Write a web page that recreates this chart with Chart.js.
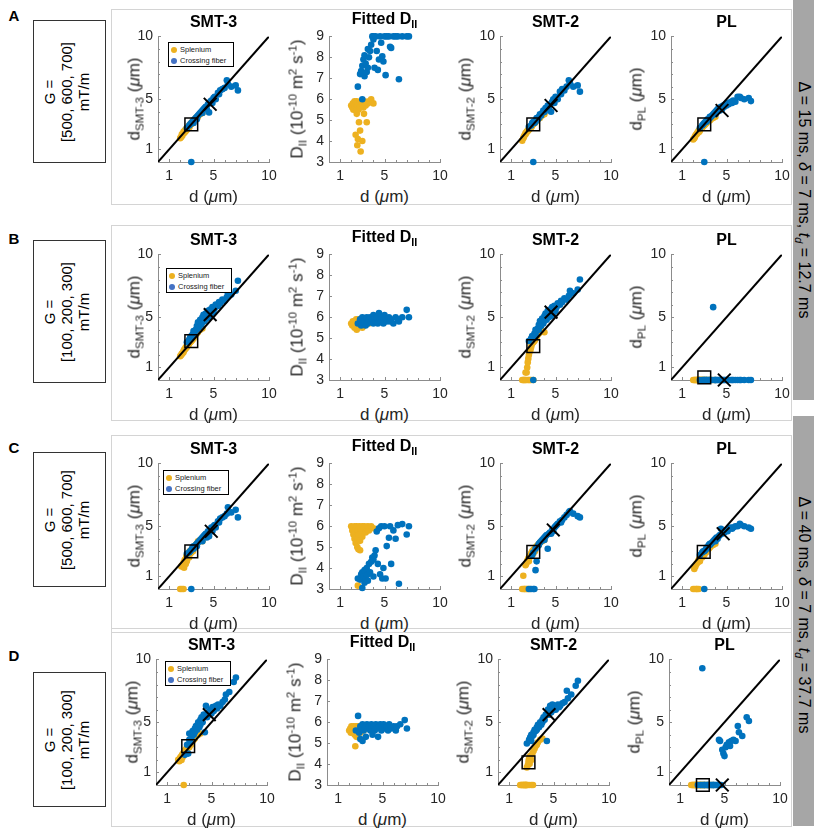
<!DOCTYPE html>
<html>
<head>
<meta charset="utf-8">
<script src="https://cdn.jsdelivr.net/npm/chart.js@4/dist/chart.umd.min.js"></script>
<style>
  body { margin:0; width:814px; height:832px; position:relative; overflow:hidden; background:#fff;
         font-family:"Liberation Sans", Arial, sans-serif; color:#000; }
  .txt { position:absolute; white-space:nowrap; line-height:1; }
  .title { font-weight:bold; font-size:16px; }
  .axlab { font-size:17px; color:#262626; }
  sub { font-size:0.68em; vertical-align:-0.35em; line-height:0; }
  sup { font-size:0.68em; vertical-align:0.55em; line-height:0; }
  .frame { position:absolute; border:1px solid #d4d4d4; box-sizing:border-box; }
  .gbox { position:absolute; border:1px solid #333; box-sizing:border-box; }
  .gtext { font-size:15px; text-align:center; line-height:17px; }
  .side-text { font-size:16px; }
  .letter { font-weight:bold; font-size:15px; }
  .side { position:absolute; background:#a6a6a6; }
  .legend { position:absolute; width:66px; height:25px; border:1px solid #000; background:#fff;
            box-sizing:border-box; font-size:7.5px; padding:1px 0 0 2px; color:#222; }
  .legend div { height:11px; display:flex; align-items:center; }
  .dot { width:6px; height:6px; border-radius:50%; margin-right:3px; display:inline-block; }
</style>
</head>
<body>
<script>
// ground-truth diameters (µm) of the voxels in each ROI
const dSplenium = [2.0, 2.1, 2.15, 2.2, 2.3, 2.3, 2.35, 2.4, 2.45, 2.5, 2.5, 2.55, 2.6, 2.6, 2.65, 2.7,
                   2.75, 2.8, 2.8, 2.85, 2.9, 3.0, 3.0, 3.1, 3.15, 3.2, 3.3, 3.4, 3.5, 3.6, 3.8, 4.0];
const dCrossing = [2.6, 2.8, 2.9, 3.0, 3.0, 3.1, 3.2, 3.2, 3.3, 3.4, 3.5, 3.5, 3.6, 3.7, 3.8, 3.9, 4.0, 4.0, 4.1, 4.2,
                   4.3, 4.4, 4.5, 4.6, 4.7, 4.8, 4.9, 5.0, 5.1, 5.2, 5.4, 5.5, 5.6, 5.8, 6.0, 6.2, 6.3, 6.6, 7.0, 7.2];

// row A: Δ = 15 ms, G = [500, 600, 700]
const aSmt3S = [1.9, 2.0, 2.2, 2.1, 2.3, 2.4, 2.3, 2.5, 2.4, 2.6, 2.5, 2.5, 2.7, 2.6, 2.6, 2.8, 2.7, 2.9, 2.8, 2.8, 3.0, 3.0, 3.1, 3.2, 3.1, 3.3, 3.3, 3.5, 3.5, 3.6, 3.8, 3.9];
const aSmt3C = [2.7, 2.9, 3.0, 0, 3.1, 3.2, 3.3, 3.1, 3.4, 3.5, 3.6, 3.4, 3.7, 3.8, 3.9, 4.0, 4.1, 3.9, 4.2, 4.3, 4.4, 4.2, 4.6, 3.95, 4.8, 4.9, 4.7, 5.1, 5.2, 5.0, 5.5, 5.4, 5.7, 5.8, 5.9, 6.5, 6.2, 6.0, 6.1, 5.7];
const aFitS = [5.7, 5.6, 5.8, 5.5, 5.9, 5.6, 5.7, 4.3, 5.8, 5.3, 5.9, 3.8, 5.7, 4.1, 5.5, 4.9, 5.8, 4.5, 5.6, 3.5, 5.9, 4.0, 5.8, 5.6, 5.3, 5.9, 5.7, 4.9, 5.8, 5.9, 6.0, 5.8];
const aFitC = [6.6, 7.2, 7.35, 6.0, 7.6, 7.9, 7.1, 8.1, 7.7, 7.3, 8.4, 7.5, 8.0, 8.3, 8.6, 9.0, 8.85, 9.0, 7.5, 9.0, 8.3, 7.4, 7.9, 9.0, 8.7, 8.05, 7.8, 9.0, 7.15, 9.0, 9.0, 8.5, 8.45, 9.0, 9.0, 9.0, 6.95, 9.0, 9.0, 9.0];
const aSmt2S = [1.7, 1.9, 2.0, 2.1, 2.2, 2.3, 2.3, 2.4, 2.4, 2.5, 2.5, 2.5, 2.6, 2.6, 2.6, 2.7, 2.7, 2.8, 2.8, 2.8, 2.9, 3.0, 3.0, 3.1, 3.1, 3.2, 3.3, 3.4, 3.5, 3.5, 3.7, 3.8];
const aSmt2C = [2.8, 2.9, 3.1, 0, 3.2, 3.1, 3.3, 3.2, 3.5, 3.4, 3.6, 3.5, 3.8, 3.7, 3.9, 4.1, 4.0, 4.0, 4.3, 4.2, 4.5, 4.3, 4.6, 4.0, 4.8, 5.0, 4.7, 5.2, 5.1, 5.0, 5.6, 5.4, 5.8, 5.7, 6.0, 6.5, 6.3, 6.0, 6.1, 5.6];
const aPlS = [1.8, 1.9, 2.0, 2.1, 2.2, 2.2, 2.3, 2.3, 2.4, 2.4, 2.5, 2.4, 2.5, 2.6, 2.6, 2.7, 2.7, 2.8, 2.7, 2.8, 2.9, 2.9, 3.0, 3.0, 3.1, 3.1, 3.2, 3.3, 3.3, 3.4, 3.5, 3.6];
const aPlC = [2.7, 2.9, 3.0, 0, 3.1, 3.2, 3.2, 3.3, 3.4, 3.4, 3.5, 3.6, 3.6, 3.7, 3.8, 3.9, 4.0, 3.8, 4.1, 4.2, 4.3, 4.1, 4.4, 4.2, 4.5, 4.4, 4.6, 4.5, 4.7, 4.6, 4.8, 4.7, 4.9, 4.8, 5.2, 5.2, 5.1, 5.0, 5.1, 4.85];

// row B: Δ = 15 ms, G = [100, 200, 300]
const bSmt3S = [1.9, 2.0, 2.1, 2.1, 2.3, 2.2, 2.4, 2.4, 2.5, 2.5, 2.6, 2.6, 2.7, 2.6, 2.7, 2.8, 2.8, 2.9, 2.9, 3.0, 3.0, 3.1, 3.1, 3.2, 3.3, 3.3, 3.5, 3.6, 3.7, 3.8, 4.0, 4.1];
const bSmt3C = [3.0, 3.2, 3.4, 3.5, 3.3, 3.6, 3.7, 3.9, 3.8, 4.0, 4.3, 4.0, 4.6, 4.2, 4.8, 4.4, 5.0, 4.6, 5.2, 4.7, 5.3, 4.9, 5.5, 5.0, 5.6, 5.2, 5.8, 5.4, 5.7, 6.0, 5.9, 6.2, 6.1, 6.4, 6.3, 6.6, 6.9, 6.8, 7.1, 7.9];
const bFitS = [5.7, 5.6, 5.8, 5.7, 5.5, 5.8, 5.6, 5.7, 5.9, 5.4, 5.7, 5.6, 5.8, 5.5, 5.7, 5.9, 5.6, 5.8, 5.7, 5.6, 5.8, 5.7, 5.5, 5.9, 5.6, 5.8, 5.7, 5.9, 5.8, 5.7, 5.9, 5.8];
const bFitC = [5.7, 5.9, 5.6, 5.8, 6.0, 5.7, 5.9, 5.8, 5.6, 6.0, 5.8, 5.7, 5.9, 6.0, 5.8, 5.9, 5.7, 6.1, 5.9, 5.8, 6.0, 5.7, 6.2, 5.9, 5.8, 6.0, 5.7, 6.1, 5.9, 5.8, 6.0, 5.8, 5.9, 5.7, 6.0, 5.9, 5.8, 6.0, 6.35, 6.0];
const bSmt2S = [0, 0, 0, 0, 0.6, 0, 0, 0.6, 1.0, 0, 1.4, 1.7, 0, 2.0, 2.2, 0, 2.4, 2.6, 0, 2.8, 2.9, 0, 3.0, 3.1, 3.2, 3.3, 3.4, 3.6, 3.7, 3.8, 3.9, 3.8];
const bSmt2C = [3.1, 3.3, 3.5, 0, 3.4, 3.7, 3.6, 4.0, 3.9, 4.1, 4.4, 4.0, 4.7, 4.3, 4.9, 4.5, 5.1, 4.7, 5.3, 4.8, 5.5, 5.0, 5.6, 5.1, 5.8, 5.3, 5.9, 5.5, 5.8, 6.1, 6.0, 6.3, 6.2, 6.5, 6.4, 6.7, 7.1, 6.9, 7.2, 8.0];
const bPlS = [0, 0, 0, 0, 0, 0, 0, 0, 0, 0, 0, 0, 0, 0, 0, 0, 0, 0, 0, 0, 0, 0, 0, 0, 0, 0, 0, 0, 0, 0, 0, 0];
const bPlC = [0, 0, 0, 0, 0, 0, 0, 0, 0, 0, 0, 0, 0, 0, 5.8, 0, 0, 0, 0, 0, 0, 0, 0, 0, 0, 0, 0, 0, 0, 0, 0, 0, 0, 0, 0, 0, 0, 0, 0, 0];

// row C: Δ = 40 ms, G = [500, 600, 700]
const cSmt3S = [0, 1.8, 0, 1.9, 0, 2.1, 1.7, 2.3, 2.2, 2.4, 2.0, 2.6, 2.5, 2.2, 2.7, 2.6, 2.8, 2.9, 2.5, 3.0, 2.8, 3.1, 2.9, 3.2, 3.0, 3.3, 3.4, 3.5, 3.6, 3.8, 3.9, 3.8];
const cSmt3C = [2.8, 2.9, 3.0, 0, 3.1, 3.3, 3.2, 3.4, 3.3, 3.5, 3.6, 3.4, 3.7, 3.8, 3.9, 4.0, 4.1, 3.8, 4.2, 4.3, 4.4, 4.1, 4.6, 4.2, 4.7, 4.9, 4.6, 5.0, 5.1, 4.9, 5.4, 5.3, 5.6, 5.7, 5.8, 6.0, 6.5, 6.1, 6.3, 5.7];
const cFitS = [6.0, 5.8, 5.9, 5.6, 6.0, 5.4, 5.7, 5.2, 5.9, 5.5, 6.0, 5.0, 3.16, 5.8, 4.9, 5.6, 6.0, 5.3, 4.85, 5.9, 5.7, 6.0, 5.5, 5.8, 5.9, 6.0, 5.7, 5.9, 6.0, 5.8, 6.0, 5.9];
const cFitC = [3.5, 3.45, 3.7, 3.05, 3.8, 3.6, 3.3, 3.9, 3.5, 4.0, 3.7, 3.4, 4.2, 3.8, 4.3, 4.5, 4.4, 3.6, 4.6, 4.85, 5.75, 4.2, 5.9, 3.7, 6.0, 3.5, 4.0, 6.0, 3.5, 5.05, 5.45, 6.0, 4.2, 5.8, 5.4, 6.05, 3.25, 6.1, 5.6, 6.0];
const cSmt2S = [0, 1.05, 0, 0, 1.9, 0, 2.0, 0, 2.2, 2.3, 0, 2.4, 2.5, 2.2, 2.6, 0, 2.7, 2.8, 2.6, 2.9, 3.0, 3.1, 2.8, 3.2, 3.0, 3.3, 3.4, 3.5, 3.5, 3.7, 3.8, 3.9];
const cSmt2C = [0, 0, 2.7, 0, 2.9, 0, 1.5, 3.2, 2.2, 3.4, 3.5, 3.6, 3.7, 3.8, 3.9, 4.0, 4.1, 3.9, 4.2, 4.3, 3.2, 4.4, 4.5, 4.4, 4.7, 4.6, 4.9, 5.0, 5.1, 5.2, 5.4, 5.3, 5.5, 5.7, 5.9, 6.1, 6.2, 6.0, 5.8, 5.7];
const cPlS = [0, 1.6, 0, 1.8, 0, 2.0, 0, 2.1, 2.2, 0, 2.3, 2.4, 2.4, 2.2, 2.5, 2.6, 2.6, 2.7, 2.5, 2.8, 2.8, 2.9, 2.7, 3.0, 2.9, 3.1, 3.2, 3.2, 3.3, 3.4, 3.5, 3.6];
const cPlC = [2.7, 2.9, 3.0, 0, 3.0, 3.1, 3.2, 3.3, 3.3, 3.5, 3.5, 3.6, 3.6, 3.7, 3.8, 3.9, 4.0, 3.8, 4.1, 4.0, 4.2, 4.3, 4.8, 4.4, 4.5, 4.5, 4.6, 4.7, 4.6, 4.8, 4.9, 4.8, 4.9, 5.0, 5.0, 5.2, 5.1, 5.0, 4.9, 4.8];

// row D: Δ = 40 ms, G = [100, 200, 300]
const dSmt3S = [2.0, 1.9, 2.1, 2.2, 2.3, 2.0, 2.4, 2.2, 2.5, 0, 2.6, 2.4, 2.7, 2.5, 2.8, 2.7, 2.9, 3.0, 2.8, 3.0, 3.1, 3.2, 3.0, 3.3, 3.2, 3.4, 3.5, 3.6, 3.7, 3.9, 4.0, 4.1];
const dSmt3C = [2.4, 3.2, 2.5, 3.6, 4.1, 3.4, 4.1, 3.8, 4.3, 4.0, 4.5, 4.2, 4.7, 4.4, 5.0, 4.6, 5.2, 4.8, 5.4, 5.0, 5.6, 4.2, 6.3, 5.4, 5.8, 5.6, 6.0, 5.7, 6.2, 5.9, 6.3, 6.1, 6.4, 6.3, 6.6, 6.8, 7.2, 7.4, 8.2, 8.55];
const dFitS = [5.6, 5.7, 5.5, 5.8, 5.6, 5.7, 5.5, 5.8, 5.6, 5.4, 5.7, 4.85, 5.6, 5.8, 5.3, 5.7, 5.5, 5.8, 5.6, 5.7, 5.8, 5.5, 5.7, 5.6, 5.8, 5.7, 5.6, 5.8, 5.7, 5.8, 5.7, 5.8];
const dFitC = [5.6, 6.3, 5.5, 5.8, 5.2, 5.7, 5.1, 5.9, 5.6, 5.7, 5.8, 5.3, 5.9, 5.7, 5.8, 5.6, 5.9, 5.7, 5.4, 5.8, 5.6, 5.9, 5.7, 5.3, 5.8, 5.9, 5.6, 5.8, 5.9, 5.7, 5.8, 5.6, 5.9, 5.7, 5.8, 5.6, 5.8, 5.9, 6.1, 5.7];
const dSmt2S = [0, 0, 0, 0, 0, 0, 0, 0, 0, 0, 0, 0, 0, 1.4, 0, 1.6, 1.9, 0, 2.1, 1.7, 2.3, 0, 2.0, 2.5, 0, 2.7, 2.9, 3.1, 3.2, 3.4, 3.6, 3.7];
const dSmt2C = [3.3, 3.6, 3.8, 3.5, 4.0, 3.9, 4.2, 4.0, 4.4, 4.3, 4.6, 4.4, 4.8, 4.6, 5.0, 4.8, 5.2, 5.0, 5.4, 5.2, 5.6, 3.5, 6.0, 5.6, 6.3, 5.8, 6.4, 6.0, 6.2, 6.0, 6.4, 6.2, 6.3, 6.5, 6.6, 7.5, 6.9, 7.2, 7.9, 8.3];
const dPlS = [0, 0, 0, 0, 0, 0, 0, 0, 0, 0, 0, 0, 0, 0, 0, 0, 0, 0, 0, 0, 0, 0, 0, 0, 0, 0, 0, 0, 0, 0, 0, 0];
const dPlC = [0, 0, 0, 9.3, 0, 0, 0, 0, 0, 0, 0, 0, 0, 0, 0, 0, 0, 0, 0, 0, 0, 0, 3.6, 3.5, 0, 2.8, 2.5, 2.3, 3.0, 3.2, 3.4, 3.1, 3.5, 3.6, 3.5, 4.7, 4.2, 3.9, 5.4, 5.1];

// ROI means: square = splenium, cross = crossing fiber (null for the fitted D panel)
const splMeanA = [[3.0, 3.0], null, [3.0, 3.0], [3.0, 3.0]];
const crossMeanA = [[4.7, 4.6], null, [4.6, 4.5], [4.6, 4.1]];
const splMeanB = [[3.0, 3.1], null, [3.0, 2.7], [3.0, 0.2]];
const crossMeanB = [[4.7, 5.2], null, [4.6, 5.4], [4.8, 0]];
const splMeanC = [[3.0, 3.0], null, [3.0, 2.95], [2.95, 2.95]];
const crossMeanC = [[4.8, 4.6], null, [4.8, 4.7], [4.7, 4.4]];
const splMeanD = [[2.9, 3.1], null, [2.75, 1.8], [3.05, 0]];
const crossMeanD = [[4.8, 5.6], null, [4.6, 5.6], [4.8, 0]];

const diamRange = [0, 10];
const diamTicks = [1, 5, 10];
const dparRange = [3, 9];
const dparTicks = [3, 4, 5, 6, 7, 8, 9];

const rowLetters = ['A', 'B', 'C', 'D'];
const gradientText = ['[500, 600, 700]', '[100, 200, 300]', '[500, 600, 700]', '[100, 200, 300]'];
const timingText = [
  'Δ = 15 ms, <i>δ</i> = 7 ms, <i>t<sub>d</sub></i> = 12.7 ms',
  'Δ = 40 ms, <i>δ</i> = 7 ms, <i>t<sub>d</sub></i> = 37.7 ms'
];

const YELLOW = '#EDB120', BLUE = '#0072BD', LEGEND_BLUE = '#4472C4';
const FONT = '"Liberation Sans", Arial, sans-serif';
Chart.defaults.font.family = FONT;

const rows = [
  { panels: [[aSmt3S, aSmt3C], [aFitS, aFitC], [aSmt2S, aSmt2C], [aPlS, aPlC]], spl: splMeanA, cross: crossMeanA },
  { panels: [[bSmt3S, bSmt3C], [bFitS, bFitC], [bSmt2S, bSmt2C], [bPlS, bPlC]], spl: splMeanB, cross: crossMeanB },
  { panels: [[cSmt3S, cSmt3C], [cFitS, cFitC], [cSmt2S, cSmt2C], [cPlS, cPlC]], spl: splMeanC, cross: crossMeanC },
  { panels: [[dSmt3S, dSmt3C], [dFitS, dFitC], [dSmt2S, dSmt2C], [dPlS, dPlC]], spl: splMeanD, cross: crossMeanD }
];

const kinds = [
  { title: 'SMT-3', ylab: 'd<sub>SMT-3</sub> (<i>μ</i>m)', fitted: false, labOff: -24 },
  { title: 'Fitted D<sub>II</sub>', ylab: 'D<sub>II</sub> (10<sup>-10</sup> m<sup>2</sup> s<sup>-1</sup>)', fitted: true, labOff: -32 },
  { title: 'SMT-2', ylab: 'd<sub>SMT-2</sub> (<i>μ</i>m)', fitted: false, labOff: -35 },
  { title: 'PL', ylab: 'd<sub>PL</sub> (<i>μ</i>m)', fitted: false, labOff: -35 }
];

// layout (px)
const AX_LEFT = [158, 329, 500, 671];
const AX_TOP = [35, 253, 462, 658];
const ROW_SHIFT = [0, 0, 0, -2];
const AX_W = 111, AX_H = 127;
const PAD_L = 30, PAD_T = 12, PAD_R = 14, PAD_B = 24;

function addText(html, x, y, cls, rot) {
  const el = document.createElement('div');
  el.className = 'txt ' + (cls || '');
  el.innerHTML = html;
  el.style.left = x + 'px';
  el.style.top = y + 'px';
  el.style.transform = 'translate(-50%,-50%)' + (rot ? ' rotate(' + rot + 'deg)' : '');
  document.body.appendChild(el);
  return el;
}
function addBox(cls, x, y, w, h) {
  const el = document.createElement('div');
  el.className = cls;
  el.style.cssText = 'left:' + x + 'px;top:' + y + 'px;width:' + w + 'px;height:' + h + 'px';
  document.body.appendChild(el);
  return el;
}

// inward MATLAB-like tick marks
const tickMarks = {
  id: 'tickMarks',
  beforeDatasetsDraw(chart) {
    const { ctx, chartArea: a, scales: { x, y } } = chart;
    ctx.save();
    ctx.strokeStyle = '#8c8c8c';
    ctx.lineWidth = 1;
    ctx.beginPath();
    for (let v = Math.ceil(x.min); v <= x.max; v++) {
      const px = Math.round(x.getPixelForValue(v)) + 0.5;
      const len = x.ticks.some(t => t.value === v) ? 3 : 2;
      ctx.moveTo(px, a.bottom);
      ctx.lineTo(px, a.bottom - len);
    }
    for (let v = Math.ceil(y.min); v <= y.max; v++) {
      const py = Math.round(y.getPixelForValue(v)) + 0.5;
      const len = y.ticks.some(t => t.value === v) ? 3 : 2;
      ctx.moveTo(a.left, py);
      ctx.lineTo(a.left + len, py);
    }
    ctx.stroke();
    ctx.restore();
  }
};

function points(xs, ys) {
  return xs.map((x, i) => ({ x: x, y: ys[i] }));
}

function axis(range, ticks, isX) {
  return {
    type: 'linear',
    min: range[0],
    max: range[1],
    afterBuildTicks: s => { s.ticks = ticks.map(v => ({ value: v })); },
    afterFit: s => { if (isX) s.height = PAD_B; else s.width = PAD_L; },
    grid: { display: true, drawOnChartArea: false, drawTicks: false },
    border: { display: true, color: '#8c8c8c', width: 1 },
    ticks: { padding: isX ? 6 : 5, color: '#262626', font: { size: 14, family: FONT },
             autoSkip: false, maxRotation: 0 }
  };
}

function addChart(r, c) {
  const row = rows[r], kind = kinds[c];
  const left = AX_LEFT[c] + ROW_SHIFT[r], top = AX_TOP[r];
  const w = AX_W + PAD_L + PAD_R, h = AX_H + PAD_T + PAD_B;
  const cv = document.createElement('canvas');
  cv.width = w; cv.height = h;
  cv.style.cssText = 'position:absolute;left:' + (left - PAD_L) + 'px;top:' + (top - PAD_T) + 'px;width:' + w + 'px;height:' + h + 'px';
  document.body.appendChild(cv);

  const [ys, yc] = row.panels[c];
  const datasets = [];
  const spl = row.spl[c], crs = row.cross[c];
  if (crs) datasets.push({ data: [{ x: crs[0], y: crs[1] }], pointStyle: 'crossRot', pointRadius: 9,
    borderColor: '#000', borderWidth: 2, backgroundColor: 'rgba(0,0,0,0)', order: 0, clip: false });
  if (spl) datasets.push({ data: [{ x: spl[0], y: spl[1] }], pointStyle: 'rect', pointRadius: 9,
    borderColor: '#000', borderWidth: 1.5, backgroundColor: 'rgba(0,0,0,0)', order: 0, clip: false });
  if (!kind.fitted) datasets.push({
    data: [{ x: diamRange[0], y: diamRange[0] }, { x: diamRange[1], y: diamRange[1] }],
    showLine: true, borderColor: '#000', borderWidth: 2, pointRadius: 0, order: 1 });
  datasets.push({ data: points(dCrossing, yc), backgroundColor: BLUE, borderWidth: 0, pointRadius: 3.3, order: 2, clip: false });
  datasets.push({ data: points(dSplenium, ys), backgroundColor: YELLOW, borderWidth: 0, pointRadius: 3.3, order: 3, clip: false });

  new Chart(cv.getContext('2d'), {
    type: 'scatter',
    data: { datasets: datasets },
    options: {
      responsive: false,
      animation: false,
      events: [],
      layout: { padding: { top: PAD_T, right: PAD_R, left: 0, bottom: 0 } },
      plugins: { legend: { display: false }, tooltip: { enabled: false } },
      scales: {
        x: axis(diamRange, diamTicks, true),
        y: kind.fitted ? axis(dparRange, dparTicks, false) : axis(diamRange, diamTicks, false)
      }
    },
    plugins: [tickMarks]
  });

  // titles and axis labels
  const cx = left + AX_W / 2;
  addText(kind.title, cx, top - (kind.fitted ? 16 : 13), 'title');
  addText('d (<i>μ</i>m)', cx, top + AX_H + 34, 'axlab');
  addText(kind.ylab, left + kind.labOff, top + AX_H / 2, 'axlab', -90);
}

// row frames, gradient boxes, letters
const frameTops = [9, 225, 435, 628];
const frameHeights = [196, 196, 198, 199];
const boxTops = [20, 240, 452, 672];
const boxHeights = [143, 143, 135, 135];
const letterY = [15, 238, 447, 655];
const legendPos = [[168, 42], [166, 268], [163, 470], [165, 661]];

for (let r = 0; r < 4; r++) {
  addBox('frame', 111, frameTops[r], 681, frameHeights[r]);
  addBox('gbox', 33, boxTops[r], 73, boxHeights[r]);
  addText('G =<br>' + gradientText[r] + '<br>mT/m', 66, boxTops[r] + boxHeights[r] / 2, 'gtext', -90);
  addText(rowLetters[r], 14, letterY[r], 'letter');
}

// side bars with timing parameters
addBox('side', 793, 0, 21, 400);
addBox('side', 793, 416, 21, 410);
addText(timingText[0], 804, 200, 'side-text', 90);
addText(timingText[1], 804, 615, 'side-text', 90);

for (let r = 0; r < 4; r++) {
  for (let c = 0; c < 4; c++) addChart(r, c);
  const lg = document.createElement('div');
  lg.className = 'legend';
  lg.style.left = legendPos[r][0] + 'px';
  lg.style.top = legendPos[r][1] + 'px';
  lg.innerHTML = '<div><span class="dot" style="background:' + YELLOW + '"></span>Splenium</div>' +
                 '<div><span class="dot" style="background:' + LEGEND_BLUE + '"></span>Crossing fiber</div>';
  document.body.appendChild(lg);
}
</script>
</body>
</html>
